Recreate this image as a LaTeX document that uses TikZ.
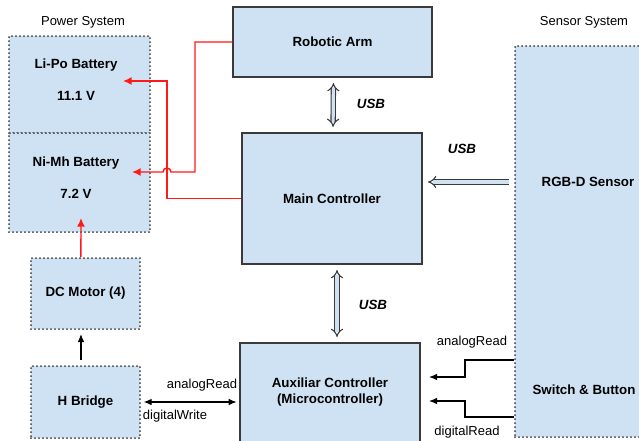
\documentclass[tikz,border=0pt]{standalone}
\usepackage{fontspec}
\setmainfont{Liberation Sans}
\usetikzlibrary{arrows.meta}
\definecolor{boxfill}{HTML}{CFE2F3}
\definecolor{boxline}{HTML}{3A3A3A}
\definecolor{dotline}{HTML}{3C3C3C}
\definecolor{wire}{HTML}{FF1A1A}
\tikzset{
  part/.style={draw=boxline, fill=boxfill, line width=1pt, font=\bfseries},
  subsys/.style={draw=dotline, fill=boxfill, line width=1.5pt, line cap=round, dash pattern=on 0pt off 3pt, font=\bfseries},
  power/.style={draw=wire, line width=1.1pt, -{Latex[length=6.5pt,width=6pt]}},
  signal/.style={draw=black, line width=0.9pt, -{Latex[length=6pt,width=5pt]}},
  usb/.style={draw=boxline, line width=0.8pt, double=boxfill, double distance=2.4pt, shorten >=4pt, shorten <=4pt},
  caption/.style={inner sep=0pt}
}
\begin{document}
\begin{tikzpicture}[x=0.75pt,y=0.75pt,yscale=-1,xscale=1,font=\fontsize{9.75}{12}\selectfont]
  \clip (0,0) rectangle (639,440);
  \fill[white] (0,0) rectangle (639,440);
  % power system: two batteries stacked
  \node[caption] (powertitle) at (83,22) {Power System};
  \node[subsys, minimum width=105.75pt, minimum height=72.75pt] (lipo) at (79.5,84.5) {};
  \node[subsys, minimum width=105.75pt, minimum height=74.25pt] (nimh) at (79.5,182.5) {};
  \node[caption, font=\bfseries, align=center] (lipotext) at (76,79.5) {Li-Po Battery\\[12pt]11.1 V};
  \node[caption, font=\bfseries, align=center] (nimhtext) at (76,177.5) {Ni-Mh Battery\\[12pt]7.2 V};
  \node[subsys, minimum width=81.75pt, minimum height=53.25pt] (motor) at (85.5,293.5) {DC Motor (4)};
  \node[subsys, minimum width=81.75pt, minimum height=54pt] (hbridge) at (85.5,402) {H Bridge};
  % controllers
  \node[part, minimum width=149.25pt, minimum height=52.5pt] (arm) at (332.5,42) {Robotic Arm};
  \node[part, minimum width=135pt, minimum height=98.25pt] (main) at (332,198.5) {Main Controller};
  \node[part, minimum width=135pt, minimum height=74.25pt, align=center] (aux) at (330,392.5) {Auxiliar Controller\\(Microcontroller)};
  % sensor system
  \node[caption] (sensortitle) at (584,22) {Sensor System};
  \node[subsys, minimum width=97.5pt, minimum height=293.25pt] (sensor) at (580,241.5) {};
  \node[caption, font=\bfseries] (rgbd) at (588,182) {RGB-D Sensor};
  \node[caption, font=\bfseries] (switch) at (584,390) {Switch \& Button};

  % usb links
  \draw[usb, {Implies}-{Implies}] ([xshift=0.75pt]arm.south) -- ([xshift=0.75pt]main.north);
  \node[caption, font=\bfseries\itshape] (usbarm) at (371,104) {USB};
  \draw[usb, {Implies}-{Implies}] ([xshift=3.75pt]main.south) -- ([xshift=5.25pt]aux.north);
  \node[caption, font=\bfseries\itshape] (usbaux) at (373,305) {USB};
  \draw[usb, -{Implies}] (sensor.west |- rgbd) -- (main.east |- rgbd);
  \node[caption, font=\bfseries\itshape] (usbcam) at (462,149) {USB};

  % power wiring
  \coordinate (lipoin) at (123,81);
  \coordinate (nimhin) at (132,172);
  \draw[power] (main.west) -- (167,198.5) -- (167,81) -- (lipoin);
  \draw[power] (arm.west) -- (195,42) -- (195,172) -- (171,172) arc (0:-180:4) -- (nimhin);
  \coordinate (motorin) at (81,218);
  \draw[power] ([xshift=-3.4pt]motor.north) -- (motorin);

  % motor drive
  \draw[signal] ([xshift=-3.4pt]hbridge.north) ++(0,-5) -- ([xshift=-3.4pt,yshift=3pt]motor.south);
  \draw[signal, {Latex[length=6pt,width=5pt]}-{Latex[length=6pt,width=5pt]}] ([xshift=2pt]hbridge.east) -- ([xshift=-2pt]aux.west |- hbridge.east);
  \node[caption] (hbread) at (202,385) {analogRead};
  \node[caption] (hbwrite) at (175,416) {digitalWrite};

  % switch and button inputs
  \coordinate (analogin) at (429,377);
  \coordinate (digitalin) at (429,401);
  \draw[signal] (sensor.west |- 0,360) -- (465,360) -- (465,377) -- (analogin);
  \draw[signal] (sensor.west |- 0,417) -- (465,417) -- (465,401) -- (digitalin);
  \node[caption] (swread) at (472,342) {analogRead};
  \node[caption] (swdigital) at (467,432) {digitalRead};
\end{tikzpicture}
\end{document}
